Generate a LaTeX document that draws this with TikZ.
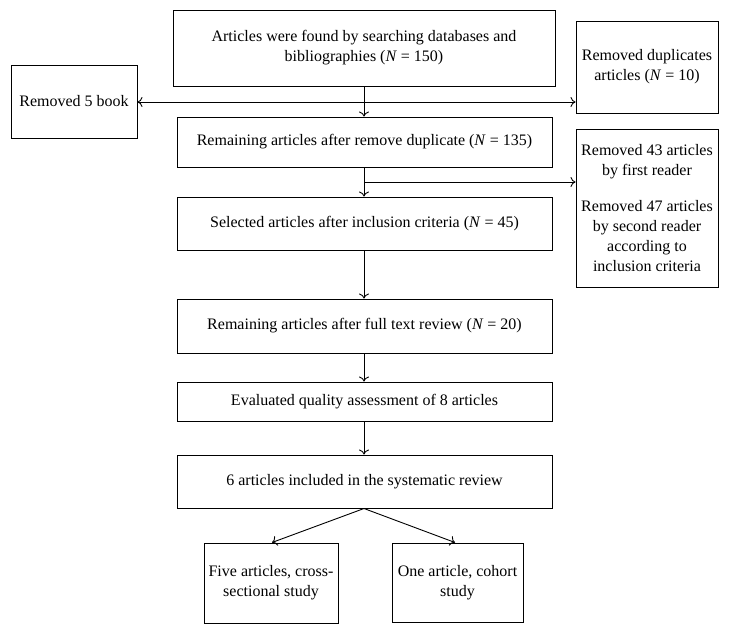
\documentclass[tikz,border=0pt]{standalone}
\usepackage{fontspec}
\setmainfont{Liberation Serif}
\usetikzlibrary{arrows.meta}
\begin{document}
\begin{tikzpicture}[x=1pt,y=-1pt,
  box/.style={draw, line width=1pt, rectangle, align=center, inner sep=2pt,
    font=\fontsize{16}{20}\selectfont},
  conn/.style={line width=0.9pt, -{To[length=5pt,width=10pt]}},
  plain/.style={line width=0.9pt}]
\useasboundingbox (0,0) rectangle (729,633);
\node[box, minimum width=382pt, minimum height=76pt] (top) at (364,48)
  {Articles were found by searching databases and\\ bibliographies (\textit{N} = 150)};
\node[box, minimum width=142pt, minimum height=92pt] (dup) at (647,67)
  {Removed duplicates\\ articles (\textit{N} = 10)};
\node[box, minimum width=126pt, minimum height=73pt] (book) at (74,101.5)
  {Removed 5 book};
\node[box, minimum width=375pt, minimum height=50pt] (rem) at (364.5,142)
  {Remaining articles after remove duplicate (\textit{N} = 135)};
\node[box, minimum width=142pt, minimum height=158pt] (readers) at (647,208)
  {Removed 43 articles\\ by first reader\\[16pt] Removed 47 articles\\ by second reader\\ according to\\ inclusion criteria};
\node[box, minimum width=375pt, minimum height=53pt] (sel) at (364.5,223.5)
  {Selected articles after inclusion criteria (\textit{N} = 45)};
\node[box, minimum width=375pt, minimum height=54pt] (full) at (364.5,326)
  {Remaining articles after full text review (\textit{N} = 20)};
\node[box, minimum width=375pt, minimum height=39pt] (eval) at (364.5,401.5)
  {Evaluated quality assessment of 8 articles};
\node[box, minimum width=375pt, minimum height=53pt] (six) at (364.5,481.5)
  {6 articles included in the systematic review};
\node[box, minimum width=134pt, minimum height=80pt] (five) at (271,583)
  {Five articles, cross-\\ sectional study};
\node[box, minimum width=131pt, minimum height=79pt] (one) at (457.5,582.5)
  {One article, cohort\\ study};
% connectors
\coordinate (j1) at (364,102);
\coordinate (j2) at (364,182);
\draw[conn] (top.south -| j1) -- (rem.north -| j1);
\draw[conn] (j1) -- (book.east |- j1);
\draw[conn] (j1) -- (dup.west |- j1);
\draw[conn] (rem.south -| j1) -- (sel.north -| j1);
\draw[conn] (j2) -- (readers.west |- j2);
\draw[conn] (sel.south -| j1) -- (full.north -| j1);
\draw[conn] (full.south -| j1) -- (eval.north -| j1);
\draw[conn] (eval.south -| j1) -- (six.north -| j1);
\coordinate (j3) at (six.south -| j1);
\draw[conn] (j3) -- ([xshift=1pt]five.north);
\draw[conn] (j3) -- ([xshift=-2.5pt]one.north);
\end{tikzpicture}
\end{document}
